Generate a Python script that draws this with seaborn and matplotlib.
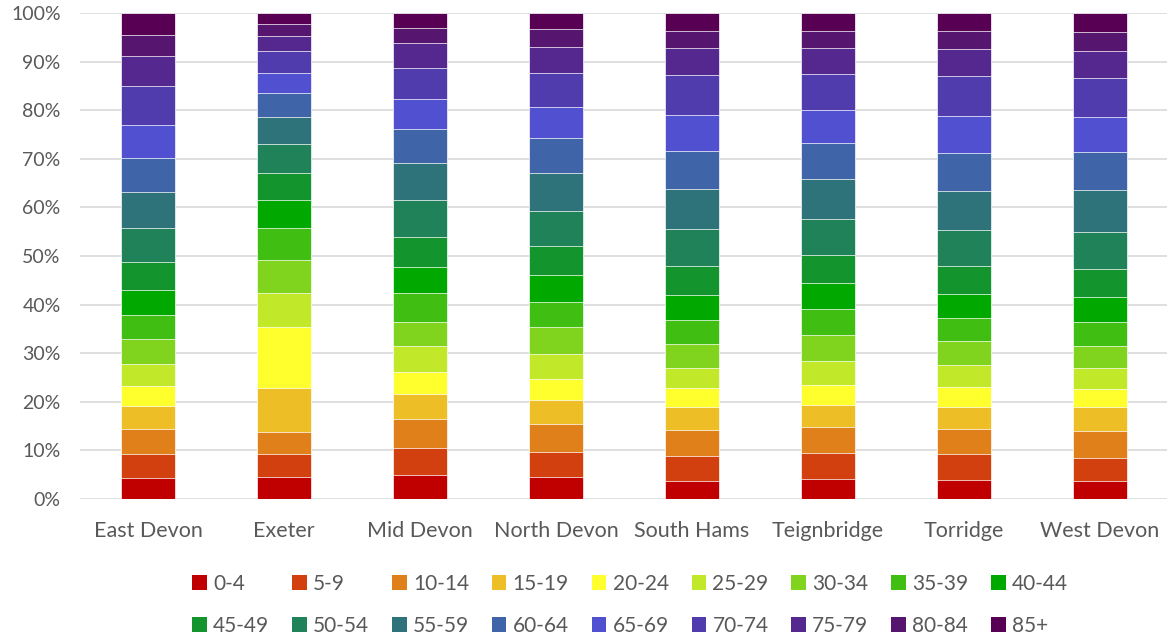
import matplotlib.pyplot as plt
import seaborn as sns
import pandas as pd
import numpy as np
from matplotlib.patches import Patch
from matplotlib.ticker import PercentFormatter

districts = ['East Devon', 'Exeter', 'Mid Devon', 'North Devon',
             'South Hams', 'Teignbridge', 'Torridge', 'West Devon']
age_groups = ['0-4', '5-9', '10-14', '15-19', '20-24', '25-29', '30-34',
              '35-39', '40-44', '45-49', '50-54', '55-59', '60-64',
              '65-69', '70-74', '75-79', '80-84', '85+']

# share of population (%) per age group, bottom to top
east_devon = [4.25, 5.10, 5.15, 4.70, 4.10, 4.55, 5.05, 5.00, 5.20,
              5.70, 6.90, 7.40, 7.00, 6.80, 8.00, 6.20, 4.30, 4.60]
exeter = [4.45, 4.75, 4.60, 9.10, 12.50, 7.00, 6.80, 6.60, 5.65,
          5.55, 6.00, 5.70, 4.80, 4.15, 4.45, 3.10, 2.50, 2.30]
mid_devon = [4.90, 5.55, 5.95, 5.30, 4.40, 5.30, 5.10, 5.90, 5.30,
             6.30, 7.50, 7.60, 7.00, 6.20, 6.50, 5.00, 3.20, 3.00]
north_devon = [4.50, 5.25, 5.65, 5.05, 4.35, 5.10, 5.50, 5.10, 5.50,
               6.00, 7.20, 7.80, 7.20, 6.40, 7.05, 5.45, 3.60, 3.30]
south_hams = [3.80, 4.95, 5.35, 4.90, 3.85, 4.15, 4.90, 4.90, 5.20,
              5.90, 7.60, 8.20, 8.00, 7.40, 8.10, 5.60, 3.60, 3.60]
teignbridge = [4.20, 5.20, 5.35, 4.55, 4.20, 4.80, 5.40, 5.40, 5.30,
               5.90, 7.40, 8.10, 7.40, 6.80, 7.40, 5.50, 3.50, 3.60]
torridge = [4.00, 5.20, 5.15, 4.60, 4.05, 4.60, 5.00, 4.60, 4.90,
            5.80, 7.40, 8.00, 8.00, 7.60, 8.10, 5.70, 3.70, 3.60]
west_devon = [3.65, 4.80, 5.45, 5.10, 3.60, 4.30, 4.50, 5.00, 5.10,
              5.90, 7.50, 8.60, 8.00, 7.20, 7.90, 5.70, 3.90, 3.80]

colors = ['#C00000', '#D1400E', '#E0801A', '#EEBE26', '#FFFF2E', '#C2E82A',
          '#80D41E', '#40BE12', '#00A800', '#14942C', '#208258', '#2F737A',
          '#4064A8', '#5050D0', '#503CAC', '#54288E', '#561670', '#580054']

shares = pd.DataFrame(
    [east_devon, exeter, mid_devon, north_devon,
     south_hams, teignbridge, torridge, west_devon],
    index=districts, columns=age_groups)
cumulative = shares.cumsum(axis=1)

sns.set_theme(style='whitegrid')
plt.rcParams['font.family'] = ['Lato', 'DejaVu Sans']

fig = plt.figure(figsize=(11.67, 6.36), dpi=100)
ax = fig.add_axes([0.0686, 0.2154, 0.932, 0.764])

# overlay cumulative bars from the top group down
for age, col in reversed(list(zip(age_groups, colors))):
    sns.barplot(x=cumulative.index, y=cumulative[age], color=col,
                width=0.4, edgecolor='white', linewidth=0.5,
                saturation=1, ax=ax)

ax.set_ylim(0, 100)
ax.set_xlim(-0.5, len(districts) - 0.5)
ax.set_yticks(np.arange(0, 101, 10))
ax.yaxis.set_major_formatter(PercentFormatter(decimals=0))
ax.set_xlabel('')
ax.set_ylabel('')
ax.grid(axis='y', color='#D9D9D9', linewidth=1.2)
ax.grid(axis='x', visible=False)
ax.set_axisbelow(True)
for s in ax.spines.values():
    s.set_visible(False)
ax.tick_params(axis='both', length=0, colors='#595959')
ax.tick_params(axis='x', labelsize=15.5, pad=16)
ax.tick_params(axis='y', labelsize=14, pad=14)

# legend is filled row by row, 9 per row
handles = [Patch(facecolor=c, edgecolor='none') for c in colors]
order = [i + r * 9 for i in range(9) for r in range(2)]
fig.legend([handles[i] for i in order], [age_groups[i] for i in order],
           loc='center', bbox_to_anchor=(0.54, 0.049),
           ncol=9, frameon=False, fontsize=15, labelcolor='#595959',
           handlelength=0.7, handleheight=0.7, handletextpad=0.3,
           columnspacing=1.1, labelspacing=1.05)

fig.savefig('out.png', dpi=100)
